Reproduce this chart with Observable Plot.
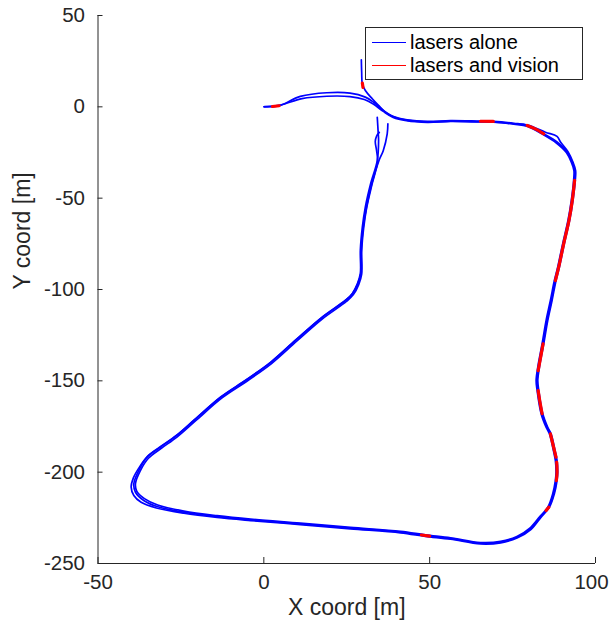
<!DOCTYPE html>
<html><head><meta charset="utf-8">
<script src="https://cdn.jsdelivr.net/npm/d3@7"></script>
<script src="https://cdn.jsdelivr.net/npm/@observablehq/plot@0.6"></script>
<style>
body{margin:0;background:#fff;font-family:"Liberation Sans",Arial,sans-serif;}
#wrap{position:relative;width:611px;height:628px;}
.legend{position:absolute;left:365px;top:27px;width:218px;height:53px;border:1px solid #262626;background:#fff;box-sizing:border-box;}
.row{position:absolute;left:0;height:22px;font-size:20px;line-height:22px;color:#000;white-space:nowrap;}
.swatch{position:absolute;left:6px;top:10.5px;width:34px;height:1.6px;}
.row span{position:absolute;left:44px;top:0;}
</style></head>
<body><div id="wrap"></div>
<script>
// Track laps (x, y in metres)
const lap1 = [[0,0],[4.4,0.5],[11,5.7],[19,7.7],[26,7.5],[30.6,5.3],[33.1,2.5],[36.1,-2],[39.1,-5.3],[43.2,-7.1],[49.3,-8],[56.3,-7.5],[65.3,-7.8],[69.2,-7.9],[75.4,-9],[79.5,-10.2],[84.4,-14.8],[88.5,-19.4],[91.5,-24.8],[93,-30.3],[93.8,-34.9],[93.7,-40.3],[93,-51.3],[92,-62.2],[90.4,-75],[88.9,-87.8],[87.9,-95.1],[86.7,-106],[85.4,-117],[84.2,-129.7],[82.9,-142.5],[82.4,-149.8],[82.7,-155.3],[83.9,-168],[85.4,-175.4],[86.4,-179],[87.6,-188.1],[88.2,-193.6],[88.4,-200.2],[88.2,-204.6],[87.4,-211.8],[85.9,-219.2],[83.4,-224.6],[80.4,-231],[76.4,-235.6],[71.4,-238.3],[65.3,-238.9],[56.3,-236.3],[48.7,-234.7],[41.2,-232.8],[26.1,-230.6],[11,-228.3],[-4,-226.1],[-14.1,-224.3],[-24.1,-221.9],[-32.2,-218.8],[-36.2,-215.5],[-38.7,-211],[-39.2,-206.4],[-37.7,-199.1],[-35.2,-191.8],[-31.2,-186.3],[-26.6,-180.4],[-21.1,-171.7],[-13.1,-159.1],[-5.5,-149.8],[2,-140],[9.5,-127.9],[17.1,-115.9],[24.6,-106],[26.6,-102.4],[28.2,-96.9],[29.1,-91.2],[29.1,-78.6],[29.7,-65.9],[30.6,-54.9],[32.2,-42.1],[34.2,-29.4],[34.6,-18.4],[34.5,-14.8],[34.2,-5.7]];
const lap2 = [[29.4,25.7],[29.5,19],[29.7,12.6],[30.6,8.9],[32.7,4.4],[35,0],[36.4,-2.6],[39.3,-5.6],[43.4,-7.4],[49.3,-8.3],[56.3,-7.8],[65.3,-8.1],[69.2,-8.2],[75.4,-9.3],[79.5,-10],[84.9,-13.9],[88.4,-16.2],[89.5,-19.4],[91.7,-24.6],[93.2,-30.3],[94,-34.9],[93.9,-40.3],[93.2,-51.3],[92.2,-62.2],[90.6,-75],[89.1,-87.8],[88.1,-95.1],[86.9,-106],[85.6,-117],[84.4,-129.7],[83.1,-142.5],[82.6,-149.8],[82.9,-155.3],[84.1,-168],[85.6,-175.4],[86.6,-179],[87.8,-188.1],[88.4,-193.6],[88.6,-200.2],[88.4,-204.6],[87.6,-211.8],[86.1,-219.2],[83.6,-224.6],[80.6,-231.3],[76.5,-235.9],[71.4,-238.7],[65.3,-239.3],[56.3,-236.7],[48.7,-235.1],[41.2,-233.2],[26.1,-231],[11,-228.7],[-4,-226.5],[-14.1,-224.8],[-24.1,-222.5],[-32.4,-219.6],[-37,-216.5],[-39.2,-212.8],[-40,-208.2],[-39.3,-203],[-37.6,-197.5],[-35,-191.2],[-31,-185.8],[-26.4,-179.9],[-20.9,-171.3],[-12.9,-158.7],[-5.3,-149.4],[2.2,-139.6],[9.7,-127.5],[17.3,-115.5],[24.8,-105.6],[26.8,-102],[28.4,-96.5],[29.3,-90.8],[29.4,-78.2],[30,-65.5],[31,-54.5],[32.6,-41.7],[34.8,-29],[36,-24],[37.2,-14.8],[37.4,-9.3]];
const lap3 = [[0.2,0.1],[5,1],[11.5,4.5],[19,5.8],[26,5.6],[30.3,4],[33,1.5],[36,-2.5],[39,-5.8],[43,-7.6],[49.3,-8.5],[56.3,-8],[65.3,-8.3],[69.2,-8.4],[75.4,-9.5],[79.5,-10.7],[84.2,-15.2],[88.2,-19.8],[91.2,-25],[92.7,-30.3],[93.5,-34.9],[93.4,-40.3],[92.7,-51.3],[91.7,-62.2],[90.1,-75],[88.6,-87.8],[87.6,-95.1],[86.4,-106],[85.1,-117],[83.9,-129.7],[82.6,-142.5],[82.1,-149.8],[82.4,-155.3],[83.6,-168],[85.1,-175.4],[86.1,-179],[87.3,-188.1],[87.9,-193.6],[88.1,-200.2],[87.9,-204.6],[87.1,-211.8],[85.6,-219.2],[83.2,-224.3],[80.2,-230.6],[76.3,-235.2],[71.4,-237.9],[65.3,-238.5],[56.3,-235.9],[48.7,-234.3],[41.2,-232.4],[26.1,-230.2],[11,-227.9],[-4,-225.7],[-14.1,-223.8],[-24.1,-221.3],[-32,-218],[-36,-214.5],[-38.3,-210.5],[-38.7,-206.2],[-37.3,-199.4],[-34.8,-192.4],[-30.8,-186.8],[-26.2,-180.8],[-20.7,-172.1],[-12.7,-159.5],[-5.1,-150.2],[2.4,-140.4],[9.9,-128.3],[17.5,-116.3],[25,-106.4],[27,-102.8],[28.6,-97.3],[29.5,-91.6],[29.5,-79],[30.1,-66.3],[31,-55.3],[32.6,-42.5],[34.3,-30],[34,-24],[33.6,-19],[34,-16],[34.8,-14]];
// Stretches where vision was used
const vision1 = [[2.6,0.2],[4.6,0.6]];
const vision2 = [[29.7,13],[29.9,10.6]];
const vision3 = [[65.3,-7.9],[69.2,-8]];
const vision4 = [[79.4,-10.2],[82,-12.2],[84.4,-14.8]];
const vision5 = [[93.7,-40.3],[93,-51.3],[92,-62.2],[90.4,-75],[88.9,-87.8],[87.9,-95.1]];
const vision6 = [[84.2,-129.7],[82.9,-142.5],[82.7,-144.4]];
const vision7 = [[82.7,-155.3],[83.2,-161],[83.9,-168]];
const vision8 = [[86.4,-179],[87.6,-188.1],[88.1,-191.8]];
const vision9 = [[88.3,-194.5],[88.4,-200.2],[88.2,-204.6]];
const vision10 = [[85.9,-219.2],[85.1,-221]];
const vision11 = [[50,-235],[47.5,-234.4]];
const xTicks = [-50, 0, 50, 100];
const yTicks = [-250, -200, -150, -100, -50, 0, 50];
const seriesNames = ["lasers alone", "lasers and vision"];
const seriesColors = ["#0000ff", "#ff0000"];

const laps = [lap1, lap2, lap3];
const visions = [vision1, vision2, vision3, vision4, vision5, vision6, vision7, vision8, vision9, vision10, vision11];
const trackRows = laps.flatMap((pts, i) => pts.map(([x, y]) => ({lap: i, x, y})));
const visionRows = visions.flatMap((pts, i) => pts.map(([x, y]) => ({seg: i, x, y})));

const axisColor = "#262626";
const fmt = d => String(d);
const chart = Plot.plot({
  width: 611, height: 628,
  marginLeft: 97.5, marginRight: 16, marginTop: 15, marginBottom: 65,
  style: {fontFamily: "'Liberation Sans', Arial, sans-serif", fontSize: "20px", color: axisColor, background: "white"},
  x: {domain: [-50, 100]},
  y: {domain: [-250, 50]},
  marks: [
    Plot.line(trackRows, {x: "x", y: "y", z: "lap", stroke: seriesColors[0], strokeWidth: 1.7, curve: "catmull-rom"}),
    Plot.line(visionRows, {x: "x", y: "y", z: "seg", stroke: seriesColors[1], strokeWidth: 3.2, curve: "catmull-rom"}),
    Plot.ruleX([-50], {stroke: axisColor, strokeWidth: 1}),
    Plot.ruleY([-250], {stroke: axisColor, strokeWidth: 1}),
    Plot.axisX(xTicks, {tickSize: -6, tickFormat: () => "", label: null, stroke: axisColor}),
    Plot.axisY(yTicks, {tickSize: -5, tickFormat: () => "", label: null, stroke: axisColor}),
    Plot.axisX(xTicks.slice(0, -1), {tickSize: 0, tickPadding: 11, fontSize: 20.5, label: null, fill: axisColor, tickFormat: fmt}),
    Plot.axisX(xTicks.slice(-1), {tickSize: 0, tickPadding: 11, fontSize: 20.5, label: null, fill: axisColor, tickFormat: fmt, dx: -4}),
    Plot.axisY(yTicks, {tickSize: 0, tickPadding: 13, fontSize: 20.5, label: null, fill: axisColor, tickFormat: fmt}),
    Plot.text(["X coord [m]"], {frameAnchor: "bottom", dy: 44, fontSize: 23, fill: axisColor, lineAnchor: "middle"}),
    Plot.text(["Y coord [m]"], {frameAnchor: "left", dx: -75.5, rotate: -90, fontSize: 23, fill: axisColor, lineAnchor: "middle"})
  ]
});
const wrap = document.getElementById("wrap");
wrap.appendChild(chart);

const legend = document.createElement("div");
legend.className = "legend";
seriesNames.forEach((name, i) => {
  const row = document.createElement("div");
  row.className = "row";
  row.style.top = (3 + i * 23) + "px";
  const sw = document.createElement("div");
  sw.className = "swatch";
  sw.style.backgroundColor = seriesColors[i];
  const label = document.createElement("span");
  label.textContent = name;
  row.appendChild(sw);
  row.appendChild(label);
  legend.appendChild(row);
});
wrap.appendChild(legend);
</script>
</body></html>
